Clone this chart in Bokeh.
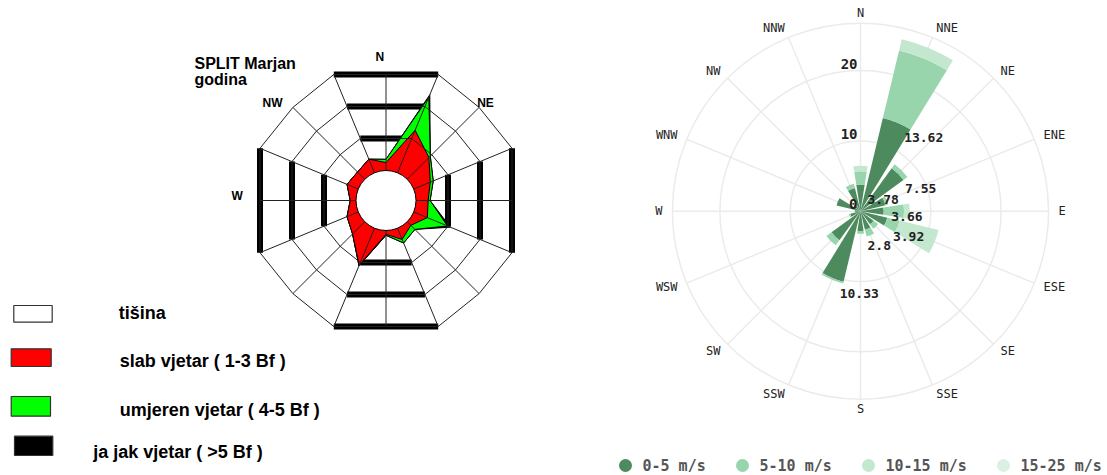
import math
import numpy as np
from bokeh.plotting import figure
from bokeh.layouts import row
from bokeh.models import Range1d, ColumnDataSource
from bokeh.embed import file_html
from bokeh.resources import INLINE
from bokeh.core.properties import value

# ---------------- data ----------------
directions = ["N", "NNE", "NE", "ENE", "E", "ESE", "SE", "SSE",
              "S", "SSW", "SW", "WSW", "W", "WNW", "NW", "NNW"]

# left rose (SPLIT Marjan, godina) - frequency in % per direction
slab_vjetar = [1.25, 7.2, 4.8, 2.8, 1.9, 2.3, 0.8, 1.9, 0.6, 6.25, 2.7, 1.9, 0.9, 1.9, 1.6, 2.3]
umjeren_vjetar = [0.5, 5.6, 0.3, 0.5, 0.3, 3.4, 0.9, 0.6, 0.15, 0.1, 0, 0, 0, 0, 0, 0]
jak_vjetar = [0, 0.4, 0, 0, 0, 0.5, 0, 0, 0, 0, 0, 0, 0, 0, 0, 0]
left_rings = [5, 10, 15]
left_dir_labels = ["N", "NE", "NW", "W"]
left_title = ["SPLIT Marjan", "godina"]
left_legend = ["tišina", "slab vjetar ( 1-3 Bf )", "umjeren vjetar ( 4-5 Bf )", "ja  jak vjetar ( >5 Bf )"]
left_legend_colors = ["white", "#ff0000", "#00ff00", "black"]

# right rose - stacked frequencies per speed class
speed_bins = ["0-5 m/s", "5-10 m/s", "10-15 m/s", "15-25 m/s"]
speed_colors = ["#4d8b5e", "#98d5ad", "#c4e7d0", "#dbefe2"]
s_0_5 = [3.78, 13.62, 7.55, 3.66, 3.3, 3.92, 2.3, 2.7, 2.8, 10.33, 5.1, 1.5, 0.8, 3.5, 1.2, 3.4]
s_5_10 = [1.9, 9.9, 0.7, 0.4, 2.9, 1.8, 0.8, 1.0, 0.4, 0.25, 0.9, 0.2, 0, 0, 0, 0.6]
s_10_15 = [0.8, 1.65, 0, 0, 0.8, 5.7, 0, 0, 0, 0, 0, 0, 0, 0, 0, 0]
s_15_25 = [0, 0, 0, 0, 0, 0, 0, 0, 0, 0, 0, 0, 0, 0, 0, 0]
label_shown = [True, True, True, True, False, True, False, False,
               True, True, False, False, False, False, False, False]
radial_ticks = [0, 10, 20]
radial_max = 26.75

angles = np.arange(16) * 22.5

PAGE_W, PAGE_H = 1107, 475
SPLIT_X = 600


def polar(theta_deg, r):
    t = np.radians(theta_deg)
    return np.asarray(r) * np.sin(t), np.asarray(r) * np.cos(t)


def base_fig(w, h, xr, yr):
    f = figure(width=w, height=h, x_range=Range1d(*xr), y_range=Range1d(*yr),
               output_backend="svg", toolbar_location=None, min_border=0,
               x_axis_location=None, y_axis_location=None)
    f.grid.visible = False
    f.outline_line_color = None
    f.background_fill_color = "white"
    f.border_fill_color = "white"
    return f


# ================= LEFT CHART =================
CXL, CYL = 385.5, 200.0        # page position of rose centre
R0 = 30.0                      # radius of calm circle (px)
PXL = 6.4                      # px per %
L = base_fig(SPLIT_X, PAGE_H, (0 - CXL, SPLIT_X - CXL), (CYL - PAGE_H, CYL - 0))


def px2l(x, y):
    return x - CXL, CYL - y


def ring_radii(a):
    r = np.empty(16)
    for i in range(16):
        if i % 4 == 0:
            r[i] = a
        elif i % 2 == 1:
            r[i] = a / math.cos(math.radians(22.5))
        else:
            r[i] = a * 1.045
    return r


ring_pts = []
for rv in left_rings:
    a = R0 + rv * PXL
    rr = ring_radii(a)
    ring_pts.append(polar(angles, rr))

# thick bars on cardinal edges
bx0, by0, bx1, by1 = [], [], [], []
for xs, ys in ring_pts:
    for i in (0, 4, 8, 12):
        bx0.append(xs[(i - 1) % 16]); by0.append(ys[(i - 1) % 16])
        bx1.append(xs[(i + 1) % 16]); by1.append(ys[(i + 1) % 16])
L.segment(bx0, by0, bx1, by1, line_color="black", line_width=6, line_cap="butt")

# stacked polygons
cum1 = np.array(slab_vjetar)
cum2 = cum1 + np.array(umjeren_vjetar)
cum3 = cum2 + np.array(jak_vjetar)
for cum, col in ((cum3, "black"), (cum2, "#00ff00"), (cum1, "#ff0000")):
    px, py = polar(angles, R0 + cum * PXL)
    L.patch(list(px), list(py), fill_color=col, line_color="black", line_width=1)

# web rings
L.multi_line([list(xs) + [xs[0]] for xs, ys in ring_pts],
             [list(ys) + [ys[0]] for xs, ys in ring_pts],
             line_color="#222222", line_width=1)
# spokes
outer_x, outer_y = ring_pts[-1]
in_x, in_y = polar(angles, np.full(16, R0))
L.segment(in_x, in_y, outer_x, outer_y, line_color="#222222", line_width=1)
# calm circle
L.circle(x=[0], y=[0], radius=R0, fill_color="white", line_color="black", line_width=1)

# direction labels
lab_pos = {"N": (379.3, 56.7), "NE": (485, 102), "NW": (272, 102.5), "W": (236.7, 195.5)}
lx, ly = zip(*[px2l(*lab_pos[d]) for d in left_dir_labels])
L.text(list(lx), list(ly), text=left_dir_labels, text_font=value("Liberation Sans"),
       text_font_style="bold", text_font_size="12px", text_align="center",
       text_baseline="middle", text_color="black")

# title
tx, ty = zip(*[px2l(194, 63), px2l(194, 79)])
L.text(list(tx), list(ty), text=left_title, text_font=value("Liberation Sans"),
       text_font_style="bold", text_font_size="16px", text_align="left",
       text_baseline="alphabetic", text_color="black")

# legend
boxes = [(13.3, 305, 51.7, 321.7), (10.7, 348.3, 50.7, 366),
         (10.7, 396, 50, 415.7), (14, 435.7, 52.3, 455)]
ql, qt = zip(*[px2l(b[0], b[1]) for b in boxes])
qr, qb = zip(*[px2l(b[2], b[3]) for b in boxes])
L.quad(left=list(ql), right=list(qr), top=list(qt), bottom=list(qb),
       fill_color=left_legend_colors, line_color="#333333", line_width=1.2)
txt_pos = [(118.3, 312.7), (119.3, 360.7), (119.3, 409), (92.7, 451.7)]
gx, gy = zip(*[px2l(*p) for p in txt_pos])
L.text(list(gx), list(gy), text=left_legend, text_font=value("Liberation Sans"),
       text_font_style="bold", text_font_size="18px", text_align="left",
       text_baseline="alphabetic", text_color="black")

# ================= RIGHT CHART =================
CXR, CYR = 860.0, 210.7
S = 7.03  # px per unit
Rf = base_fig(PAGE_W - SPLIT_X, PAGE_H, ((SPLIT_X - CXR) / S, (PAGE_W - CXR) / S),
              ((CYR - PAGE_H) / S, CYR / S))

grid_col = "#ebebeb"
Rf.circle(x=[0] * 3, y=[0] * 3, radius=[10, 20, radial_max], fill_color=None,
          line_color=grid_col, line_width=1.5)
ox, oy = polar(angles, np.full(16, radial_max))
Rf.segment(np.zeros(16), np.zeros(16), ox, oy, line_color=grid_col, line_width=1.5)

series = [s_0_5, s_5_10, s_10_15, s_15_25]
base = np.zeros(16)
half = 9.0
for vals, col in zip(series, speed_colors):
    v = np.array(vals, dtype=float)
    m = v > 0
    src = ColumnDataSource(dict(
        inner=base[m], outer=(base + v)[m],
        start=(90 - angles - half)[m], end=(90 - angles + half)[m]))
    Rf.annular_wedge(x=0, y=0, inner_radius="inner", outer_radius="outer",
                     start_angle="start", end_angle="end", start_angle_units="deg",
                     end_angle_units="deg", direction="anticlock",
                     fill_color=col, line_color=None, source=src)
    base = base + v

# direction labels
lab_r = 198 / S
dx, dy = polar(angles, np.full(16, lab_r))
aligns = ["center" if abs(math.sin(math.radians(a))) < 0.01 else
          ("left" if math.sin(math.radians(a)) > 0 else "right") for a in angles]
Rf.text(dx, dy, text=directions, text_font=value("DejaVu Sans Mono"),
        text_font_size="12px", text_align=aligns, text_baseline="middle",
        text_color="#222222")

# radial tick labels
Rf.text([0] * 3, radial_ticks, text=[str(t) for t in radial_ticks],
        x_offset=-3, y_offset=-7, text_font=value("DejaVu Sans Mono"),
        text_font_style="bold", text_font_size="14px", text_align="right",
        text_baseline="middle", text_color="#222222")

# value labels at the end of the 0-5 m/s segment
idx = [i for i in range(16) if label_shown[i]]
vx, vy = polar(angles[idx], np.array(s_0_5)[idx])
Rf.text(vx, vy, text=[str(s_0_5[i]) for i in idx], x_offset=7, y_offset=15,
        text_font=value("DejaVu Sans Mono"), text_font_size="13px",
        text_font_style="bold", text_align="left", text_baseline="middle",
        text_color="#222222")

# legend
leg_px = [625, 742, 868, 1003]
leg_y = (CYR - 465) / S
Rf.scatter([(x - CXR) / S for x in leg_px], [leg_y] * 4, size=13, marker="circle",
           fill_color=speed_colors, line_color=None)
Rf.text([(x + 17 - CXR) / S for x in leg_px], [leg_y] * 4, text=speed_bins,
        text_font=value("DejaVu Sans Mono"), text_font_style="bold",
        text_font_size="15px", text_align="left", text_baseline="middle",
        text_color="#555555")

p = row(L, Rf)
open("out.html", "w").write(file_html(p, INLINE))
